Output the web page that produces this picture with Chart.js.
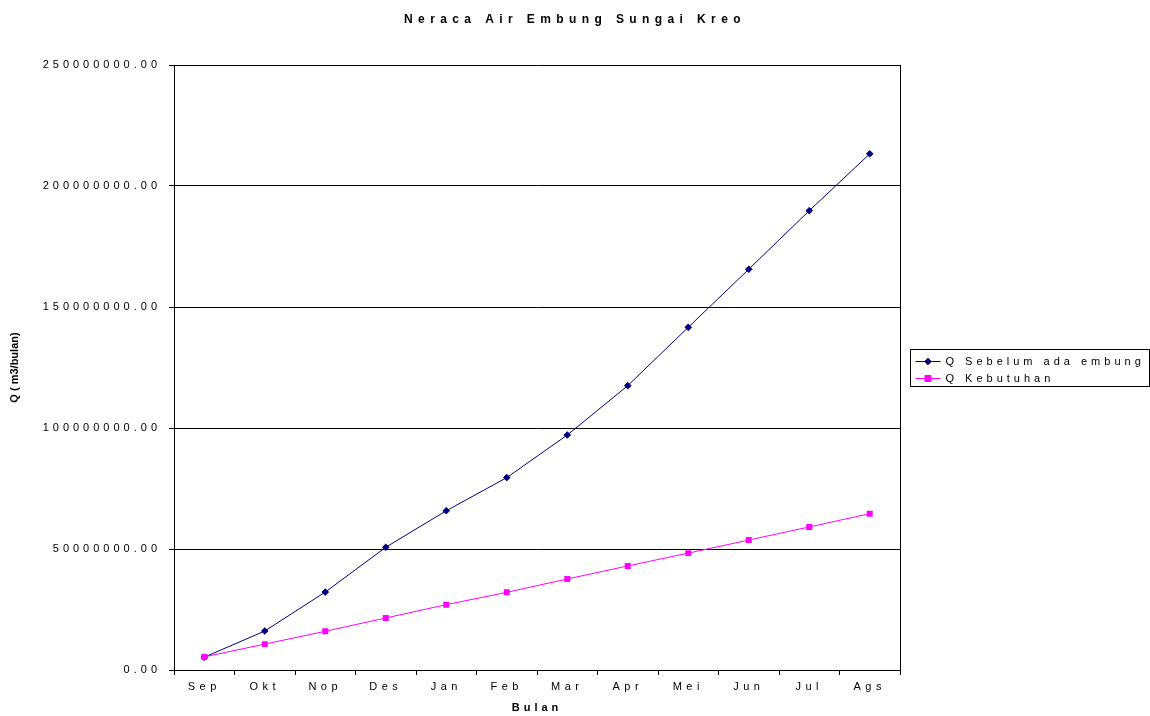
<!DOCTYPE html>
<html>
<head>
<meta charset="utf-8">
<title>Neraca Air Embung Sungai Kreo</title>
<style>
  html, body { margin: 0; padding: 0; background: #ffffff; }
  canvas { display: block; }
</style>
<script src="https://cdn.jsdelivr.net/npm/chart.js@4.4.1/dist/chart.umd.min.js"></script>
</head>
<body>
<canvas id="neraca" width="1150" height="716"></canvas>
<script>
// Monthly water balance, m3 per month
const bulan = ['Sep', 'Okt', 'Nop', 'Des', 'Jan', 'Feb', 'Mar', 'Apr', 'Mei', 'Jun', 'Jul', 'Ags'];
const qSebelumEmbung = [5.3e6, 16.1e6, 32.2e6, 50.7e6, 65.8e6, 79.5e6, 97.1e6, 117.5e6, 141.6e6, 165.6e6, 189.8e6, 213.3e6];
const qKebutuhan = [5.4e6, 10.7e6, 16.0e6, 21.5e6, 27.0e6, 32.1e6, 37.6e6, 43.0e6, 48.3e6, 53.7e6, 59.1e6, 64.6e6];
const yTicks = [0, 50e6, 100e6, 150e6, 200e6, 250e6];

const FONT = '"Liberation Sans", Arial, Helvetica, sans-serif';

// Wide letter spacing on the axis texts and the title
const spacingPlugin = {
  id: 'spacing',
  afterLayout(chart) {
    if (chart.$spaced) return;
    chart.$spaced = true;
    const ctx = chart.ctx;
    const wrap = (obj, name, sp) => {
      const orig = obj[name];
      obj[name] = function (...args) {
        const prev = ctx.letterSpacing;
        ctx.letterSpacing = sp;
        try { return orig.apply(this, args); } finally { ctx.letterSpacing = prev; }
      };
    };
    wrap(chart.scales.x, 'drawLabels', '4.5px');
    wrap(chart.scales.y, 'drawLabels', '4px');
    wrap(chart.scales.x, 'drawTitle', '4px');
    if (chart.titleBlock) wrap(chart.titleBlock, 'draw', '5.4px');
  }
};

// Right edge of the plot frame
const framePlugin = {
  id: 'frame',
  beforeDatasetsDraw(chart) {
    const { ctx, chartArea: a } = chart;
    const x = Math.round(a.right - 0.5) + 0.5;
    ctx.save();
    ctx.strokeStyle = '#000000';
    ctx.lineWidth = 1;
    ctx.beginPath();
    ctx.moveTo(x, a.top);
    ctx.lineTo(x, a.bottom + 5);
    ctx.stroke();
    ctx.restore();
  }
};

// Boxed legend to the right of the plot
const boxLegendPlugin = {
  id: 'boxLegend',
  afterDraw(chart) {
    const { ctx, chartArea: a } = chart;
    const mid = (a.top + a.bottom) / 2;
    const left = Math.round(a.right) + 10.5;
    const top = Math.round(mid - 19) + 0.5;
    const right = chart.width - 0.5;
    const bottom = top + 37;
    ctx.save();
    ctx.fillStyle = '#ffffff';
    ctx.fillRect(left, top, right - left, bottom - top);
    ctx.strokeStyle = '#000000';
    ctx.lineWidth = 1;
    ctx.strokeRect(left, top, right - left, bottom - top);
    ctx.font = '11px ' + FONT;
    ctx.textBaseline = 'middle';
    ctx.textAlign = 'left';
    ctx.letterSpacing = '4px';
    chart.data.datasets.forEach((ds, i) => {
      const y = Math.round(top + 11 + i * 17);
      ctx.strokeStyle = ds.borderColor;
      ctx.lineWidth = 1;
      ctx.beginPath();
      ctx.moveTo(left + 5, y + 0.5);
      ctx.lineTo(left + 30, y + 0.5);
      ctx.stroke();
      ctx.fillStyle = ds.pointBackgroundColor;
      ctx.strokeStyle = ds.pointBorderColor;
      Chart.helpers.drawPoint(ctx, { pointStyle: ds.pointStyle, radius: ds.pointRadius, borderWidth: 1 }, left + 17.5, y + 0.5);
      ctx.fillStyle = '#000000';
      ctx.fillText(ds.label, left + 35, y + 1);
    });
    ctx.restore();
  }
};

new Chart(document.getElementById('neraca'), {
  type: 'line',
  data: {
    labels: bulan,
    datasets: [
      {
        label: 'Q Sebelum ada embung',
        data: qSebelumEmbung,
        borderColor: '#000080',
        borderWidth: 1,
        pointStyle: 'rectRot',
        pointRadius: 3.3,
        pointBackgroundColor: '#000080',
        pointBorderColor: '#000080',
        pointBorderWidth: 1,
        tension: 0,
        order: 1
      },
      {
        label: 'Q Kebutuhan',
        data: qKebutuhan,
        borderColor: '#FF00FF',
        borderWidth: 1,
        pointStyle: 'rect',
        pointRadius: 4.2,
        pointBackgroundColor: '#FF00FF',
        pointBorderColor: '#FF00FF',
        pointBorderWidth: 0,
        tension: 0,
        order: 0
      }
    ]
  },
  options: {
    responsive: false,
    animation: false,
    devicePixelRatio: 1,
    layout: { padding: 0 },
    plugins: {
      legend: { display: false },
      tooltip: { enabled: false },
      title: {
        display: true,
        text: 'Neraca Air Embung Sungai Kreo',
        color: '#000000',
        font: { family: FONT, size: 12, weight: 'bold' },
        padding: { top: 12, bottom: 38.6 }
      }
    },
    scales: {
      x: {
        type: 'category',
        offset: true,
        afterFit(s) { s.height = 46; },
        grid: {
          offset: true,
          drawOnChartArea: false,
          drawTicks: true,
          tickLength: 5,
          color: '#000000',
          lineWidth: 1
        },
        border: { display: true, color: '#000000', width: 1 },
        ticks: {
          color: '#000000',
          font: { family: FONT, size: 11 },
          padding: 5.4,
          maxRotation: 0,
          autoSkip: false
        },
        title: {
          display: true,
          text: 'Bulan',
          color: '#000000',
          font: { family: FONT, size: 11, weight: 'bold' },
          padding: { top: 0, bottom: 1.4 }
        }
      },
      y: {
        min: 0,
        max: 250e6,
        afterFit(s) { s.width = 174; },
        afterBuildTicks(s) { s.ticks = yTicks.map(v => ({ value: v })); },
        grid: {
          drawOnChartArea: true,
          drawTicks: true,
          tickLength: 5,
          color: '#000000',
          lineWidth: 1
        },
        border: { display: true, color: '#000000', width: 1 },
        ticks: {
          color: '#000000',
          font: { family: FONT, size: 11 },
          padding: 8,
          callback: v => Number(v).toFixed(2)
        },
        title: {
          display: true,
          text: 'Q ( m3/bulan)',
          color: '#000000',
          font: { family: FONT, size: 11, weight: 'bold' },
          padding: { top: 8.4, bottom: 0 }
        }
      },
      // empty right-hand axis reserving room for the legend box
      legendSpace: {
        type: 'linear',
        position: 'right',
        min: 0,
        max: 1,
        afterFit(s) { s.width = 250; },
        ticks: { display: false },
        grid: { display: false },
        border: { display: false },
        title: { display: false }
      }
    }
  },
  plugins: [spacingPlugin, framePlugin, boxLegendPlugin]
});
</script>
</body>
</html>
